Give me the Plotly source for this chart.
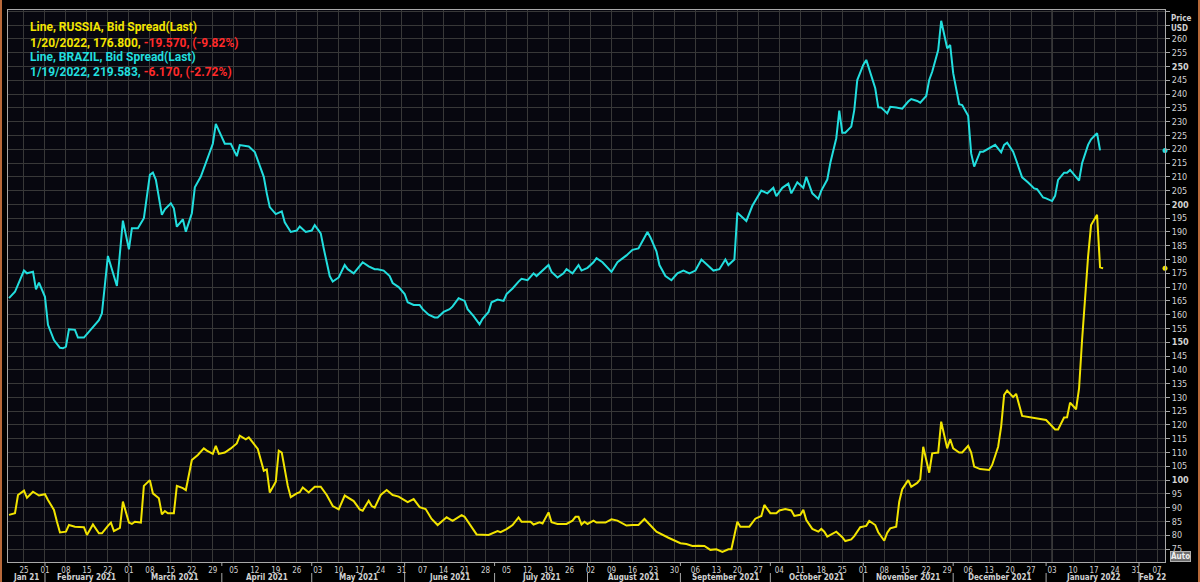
import plotly.graph_objects as go
import pandas as pd

# ---------------- data ----------------
russia_dates = [
    "2021-01-20","2021-01-22","2021-01-23","2021-01-25","2021-01-26","2021-01-28","2021-01-30",
    "2021-02-01","2021-02-02","2021-02-04","2021-02-05","2021-02-06","2021-02-08","2021-02-09",
    "2021-02-11","2021-02-14","2021-02-15","2021-02-16","2021-02-17","2021-02-19","2021-02-20",
    "2021-02-22","2021-02-23","2021-02-24","2021-02-26","2021-02-27","2021-03-01","2021-03-02",
    "2021-03-03","2021-03-05","2021-03-06","2021-03-08","2021-03-09","2021-03-11","2021-03-12",
    "2021-03-13","2021-03-14","2021-03-16","2021-03-17","2021-03-19","2021-03-20","2021-03-22",
    "2021-03-24","2021-03-26","2021-03-27","2021-03-29","2021-03-30","2021-03-31","2021-04-02",
    "2021-04-04","2021-04-06","2021-04-07","2021-04-09","2021-04-10","2021-04-11","2021-04-13",
    "2021-04-15","2021-04-16","2021-04-17","2021-04-19","2021-04-20","2021-04-21","2021-04-23",
    "2021-04-24","2021-04-26","2021-04-27","2021-04-28","2021-04-30","2021-05-02","2021-05-04",
    "2021-05-06","2021-05-08","2021-05-10","2021-05-12","2021-05-15","2021-05-17","2021-05-18",
    "2021-05-20","2021-05-21","2021-05-22","2021-05-24","2021-05-26","2021-05-28","2021-05-30",
    "2021-06-02","2021-06-04","2021-06-06","2021-06-08","2021-06-10","2021-06-12","2021-06-15",
    "2021-06-17","2021-06-20","2021-06-21","2021-06-25","2021-06-29","2021-07-02","2021-07-03",
    "2021-07-05","2021-07-07","2021-07-09","2021-07-10","2021-07-13","2021-07-14","2021-07-16",
    "2021-07-17","2021-07-19","2021-07-20","2021-07-22","2021-07-25","2021-07-27","2021-07-28",
    "2021-07-29","2021-07-30","2021-07-31","2021-08-01","2021-08-03","2021-08-04","2021-08-07",
    "2021-08-09","2021-08-11","2021-08-14","2021-08-16","2021-08-18","2021-08-20","2021-08-22",
    "2021-08-24","2021-08-28","2021-09-01","2021-09-03","2021-09-05","2021-09-07","2021-09-09",
    "2021-09-11","2021-09-13","2021-09-15","2021-09-17","2021-09-18","2021-09-20","2021-09-21",
    "2021-09-24","2021-09-26","2021-09-28","2021-09-29","2021-10-01","2021-10-03","2021-10-04",
    "2021-10-06","2021-10-08","2021-10-09","2021-10-11","2021-10-12","2021-10-13","2021-10-15",
    "2021-10-17","2021-10-18","2021-10-19","2021-10-20","2021-10-22","2021-10-23","2021-10-25",
    "2021-10-26","2021-10-28","2021-10-29","2021-10-31","2021-11-02","2021-11-03","2021-11-05",
    "2021-11-06","2021-11-08","2021-11-09","2021-11-10","2021-11-12","2021-11-13","2021-11-14",
    "2021-11-16","2021-11-17","2021-11-19","2021-11-20","2021-11-21","2021-11-23","2021-11-24",
    "2021-11-26","2021-11-27","2021-11-29","2021-11-30","2021-12-01","2021-12-03","2021-12-04",
    "2021-12-06","2021-12-07","2021-12-08","2021-12-10","2021-12-13","2021-12-14","2021-12-16",
    "2021-12-17","2021-12-18","2021-12-19","2021-12-21","2021-12-22","2021-12-24","2022-01-01",
    "2022-01-04","2022-01-05","2022-01-07","2022-01-08","2022-01-09","2022-01-11","2022-01-12",
    "2022-01-13","2022-01-14","2022-01-15","2022-01-16","2022-01-18","2022-01-19","2022-01-20",
]
russia_values = [
    87.4, 88.0, 94.6, 96.2, 93.6, 95.8, 94.4,
    94.9, 92.8, 89.2, 84.9, 81.0, 81.3, 83.7,
    83.1, 82.9, 80.1, 82.2, 83.9, 80.7, 80.7,
    83.4, 84.6, 81.5, 82.7, 92.2, 84.6, 84.1,
    84.9, 84.6, 97.9, 100.0, 95.2, 93.4, 87.6,
    88.8, 88.0, 88.0, 97.9, 97.1, 96.4, 107.3,
    109.1, 111.5, 110.7, 109.5, 112.4, 109.5, 110.0,
    111.5, 113.3, 116.1, 114.8, 115.5, 114.2, 111.3,
    103.4, 103.9, 95.5, 99.4, 110.7, 110.0, 97.9,
    93.8, 95.2, 95.6, 97.3, 95.5, 97.6, 97.6,
    94.6, 90.6, 89.4, 94.4, 92.4, 89.4, 88.9,
    92.5, 90.6, 90.0, 94.6, 96.4, 94.6, 94.0,
    92.0, 93.1, 90.2, 89.5, 85.9, 83.7, 86.5,
    85.2, 87.3, 86.7, 80.3, 80.1, 81.5, 81.1,
    82.2, 83.7, 86.5, 84.9, 84.9, 83.9, 84.7,
    84.3, 88.3, 84.7, 84.1, 84.1, 85.3, 86.7,
    86.7, 83.9, 84.9, 84.1, 85.3, 84.6, 84.6,
    85.8, 85.3, 83.5, 83.7, 83.7, 85.9, 83.7,
    81.3, 79.1, 77.1, 76.8, 76.1, 76.2, 76.1,
    74.7, 74.9, 74.0, 74.9, 74.9, 84.9, 83.1,
    83.1, 86.0, 87.0, 91.0, 88.0, 88.0, 89.0,
    89.5, 89.0, 87.0, 87.4, 89.2, 85.5, 82.3,
    81.3, 82.3, 81.3, 79.5, 80.9, 81.3, 79.3,
    77.9, 78.5, 79.7, 82.9, 83.4, 85.2, 83.7,
    81.1, 78.0, 80.9, 82.5, 83.1, 92.2, 96.7,
    100.0, 97.6, 99.0, 100.3, 112.1, 102.7, 109.7,
    110.0, 121.2, 111.5, 114.8, 111.5, 110.0, 110.0,
    112.4, 110.0, 104.9, 104.0, 103.7, 105.5, 112.1,
    119.4, 130.9, 132.5, 130.1, 131.3, 123.3, 121.8,
    118.4, 118.4, 122.7, 122.8, 128.1, 125.7, 133.3,
    150.8, 167.8, 181.0, 192.5, 196.2, 177.2, 176.8,
]

brazil_dates = [
    "2021-01-20","2021-01-22","2021-01-25","2021-01-26","2021-01-28","2021-01-29","2021-01-30",
    "2021-02-01","2021-02-02","2021-02-04","2021-02-06","2021-02-07","2021-02-08","2021-02-09",
    "2021-02-11","2021-02-12","2021-02-14","2021-02-16","2021-02-19","2021-02-20","2021-02-22",
    "2021-02-25","2021-02-27","2021-03-01","2021-03-02","2021-03-04","2021-03-06","2021-03-08",
    "2021-03-09","2021-03-10","2021-03-12","2021-03-13","2021-03-15","2021-03-16","2021-03-17",
    "2021-03-19","2021-03-20","2021-03-22","2021-03-23","2021-03-25","2021-03-26","2021-03-28",
    "2021-03-29","2021-03-30","2021-04-01","2021-04-02","2021-04-04","2021-04-06","2021-04-07",
    "2021-04-09","2021-04-10","2021-04-12","2021-04-13","2021-04-15","2021-04-16","2021-04-17",
    "2021-04-19","2021-04-21","2021-04-22","2021-04-24","2021-04-26","2021-04-27","2021-04-29",
    "2021-05-01","2021-05-02","2021-05-04","2021-05-05","2021-05-07","2021-05-08","2021-05-10",
    "2021-05-12","2021-05-13","2021-05-15","2021-05-17","2021-05-18","2021-05-20","2021-05-22",
    "2021-05-23","2021-05-25","2021-05-27","2021-05-28","2021-05-30","2021-06-01","2021-06-02",
    "2021-06-04","2021-06-06","2021-06-07","2021-06-09","2021-06-11","2021-06-12","2021-06-14",
    "2021-06-16","2021-06-17","2021-06-19","2021-06-21","2021-06-22","2021-06-24","2021-06-26",
    "2021-06-27","2021-06-29","2021-06-30","2021-07-02","2021-07-04","2021-07-05","2021-07-07",
    "2021-07-09","2021-07-10","2021-07-12","2021-07-14","2021-07-15","2021-07-17","2021-07-19",
    "2021-07-20","2021-07-22","2021-07-24","2021-07-25","2021-07-27","2021-07-29","2021-07-30",
    "2021-08-01","2021-08-03","2021-08-04","2021-08-06","2021-08-08","2021-08-09","2021-08-11",
    "2021-08-13","2021-08-14","2021-08-16","2021-08-18","2021-08-19","2021-08-21","2021-08-22",
    "2021-08-24","2021-08-25","2021-08-27","2021-08-29","2021-08-31","2021-09-02","2021-09-04",
    "2021-09-06","2021-09-08","2021-09-10","2021-09-12","2021-09-14","2021-09-16","2021-09-17",
    "2021-09-19","2021-09-20","2021-09-22","2021-09-23","2021-09-25",
    "2021-09-27","2021-09-28","2021-09-30","2021-10-02","2021-10-03","2021-10-05","2021-10-07",
    "2021-10-08","2021-10-10","2021-10-12","2021-10-13","2021-10-15","2021-10-17","2021-10-18",
    "2021-10-20","2021-10-21","2021-10-23","2021-10-24","2021-10-25","2021-10-26","2021-10-28",
    "2021-10-29","2021-10-30","2021-11-01","2021-11-02","2021-11-03","2021-11-05","2021-11-06",
    "2021-11-07","2021-11-09","2021-11-10","2021-11-12","2021-11-14","2021-11-16","2021-11-17",
    "2021-11-19","2021-11-20","2021-11-22","2021-11-23","2021-11-24","2021-11-26","2021-11-27",
    "2021-11-29","2021-11-30","2021-12-01","2021-12-03","2021-12-04","2021-12-06","2021-12-07",
    "2021-12-08","2021-12-10","2021-12-11","2021-12-13","2021-12-15","2021-12-17","2021-12-18",
    "2021-12-19","2021-12-21","2021-12-22","2021-12-24","2021-12-26","2021-12-28","2021-12-29",
    "2021-12-31","2022-01-01","2022-01-03","2022-01-04","2022-01-05","2022-01-07","2022-01-08",
    "2022-01-09","2022-01-11","2022-01-12","2022-01-13","2022-01-15","2022-01-16","2022-01-18",
    "2022-01-19",
]
brazil_values = [
    166.0, 168.3, 176.0, 175.0, 175.6, 169.2, 171.6,
    166.5, 156.3, 150.8, 148.0, 147.8, 148.4, 154.7,
    154.5, 151.7, 151.7, 154.2, 158.0, 160.5, 181.3,
    170.4, 194.1, 183.7, 191.3, 191.3, 195.0, 210.7,
    211.5, 208.9, 196.2, 198.2, 200.4, 198.6, 191.9,
    194.6, 190.1, 196.8, 206.2, 210.1, 213.0, 219.0,
    222.0, 229.2, 224.0, 222.0, 222.0, 217.5, 221.5,
    221.0, 221.0, 219.0, 216.0, 210.0, 204.0, 199.0,
    196.5, 197.5, 193.5, 190.0, 190.5, 192.0, 190.0,
    190.5, 192.5, 189.5, 184.0, 174.0, 172.0, 173.5,
    178.0, 176.5, 175.0, 177.5, 179.0, 177.5, 176.5,
    176.5, 176.0, 174.0, 171.5, 170.0, 167.5, 164.5,
    163.5, 163.5, 162.0, 160.0, 159.0, 159.0, 161.0,
    162.0, 163.0, 166.0, 165.0, 162.0, 159.5, 156.5,
    158.5, 161.0, 164.5, 165.5, 165.0, 167.5, 169.5,
    172.0, 173.0, 172.5, 175.0, 174.0, 176.0, 178.0,
    175.5, 173.5, 175.0, 176.5, 175.0, 178.0, 176.0,
    177.0, 179.0, 180.5, 179.0, 176.5, 175.5, 179.0,
    180.5, 181.5, 183.5, 184.0, 186.0, 190.0, 188.0,
    183.0, 178.0, 174.0, 172.5, 175.0, 176.0, 175.0,
    176.0, 180.0, 178.0, 176.0, 176.5, 180.0, 178.0,
    180.0, 197.0, 195.0, 194.0, 199.5,
    203.0, 205.0, 204.0, 206.0, 203.0, 206.0, 207.5,
    204.0, 208.0, 206.0, 210.0, 204.0, 202.0, 205.0,
    209.0, 215.0, 224.0, 234.0, 226.0, 226.0, 228.2,
    234.2, 245.1, 250.6, 252.4, 248.8, 242.1, 235.2,
    235.1, 233.0, 235.4, 235.1, 234.7, 237.3, 238.2,
    237.5, 236.9, 239.3, 245.1, 248.1, 256.0, 266.6,
    256.6, 257.8, 247.6, 236.3, 236.0, 232.1, 218.5,
    213.7, 219.1, 219.1, 220.3, 221.6, 218.9, 221.6,
    222.4, 219.1, 216.1, 209.8, 207.9, 205.8, 205.5,
    202.5, 202.2, 201.2, 203.1, 208.9, 211.5, 211.5,
    212.5, 209.7, 208.6, 214.9, 221.6, 223.6, 225.8,
    219.583,
]

russia_label = ["Line, RUSSIA, Bid Spread(Last)", "1/20/2022, 176.800, ", "-19.570, (-9.82%)"]
brazil_label = ["Line, BRAZIL, Bid Spread(Last)", "1/19/2022, 219.583, ", "-6.170, (-2.72%)"]

y_ticks = list(range(75, 261, 5))
x_range = ["2021-01-19 16:00", "2022-02-09 16:00"]
y_range = [70.3, 270.5]

# ---------------- styling ----------------
YELLOW = "#f2e400"
CYAN = "#22dede"
RED = "#ff2a2a"
GRID = "#383838"
AXIS = "#a8a8a8"
TXT = "#d2d2d2"
FONT = "Liberation Sans Narrow, Roboto, Arial, sans-serif"
SMALL = "DejaVu Sans Condensed, DejaVu Sans, sans-serif"

fig = go.Figure()
fig.add_trace(go.Scatter(x=brazil_dates, y=brazil_values, mode="lines",
                         line=dict(color=CYAN, width=2), hoverinfo="skip"))
fig.add_trace(go.Scatter(x=russia_dates, y=russia_values, mode="lines",
                         line=dict(color=YELLOW, width=2), hoverinfo="skip"))
# last-value markers on the axis
fig.add_trace(go.Scatter(x=[x_range[1]], y=[brazil_values[-1]], mode="markers",
                         marker=dict(color=CYAN, size=5), cliponaxis=False, hoverinfo="skip"))
fig.add_trace(go.Scatter(x=[x_range[1]], y=[russia_values[-1]], mode="markers",
                         marker=dict(color=YELLOW, size=5), cliponaxis=False, hoverinfo="skip"))

tickvals_y = [70] + y_ticks + [265, 270]
ticktext_y = [""] + [f"<b>{v}</b>" if v % 50 == 0 else str(v) for v in y_ticks] + ["", ""]

W, H = 1200, 582
ml, mr, mt, mb = 8, 35, 10, 20
pw, ph = W - ml - mr, H - mt - mb

def px_x(p):
    return (p - ml) / pw

def px_y(p):
    return 1 - (p - mt) / ph

fig.update_layout(
    width=W, height=H,
    margin=dict(l=ml, r=mr, t=mt, b=mb, pad=0),
    paper_bgcolor="#000000",
    plot_bgcolor="#07070f",
    showlegend=False,
    font=dict(family=FONT, color=TXT),
    xaxis=dict(
        type="date", range=x_range,
        tick0="2021-01-25", dtick=7 * 86400000, tickformat="%d",
        showgrid=True, gridcolor=GRID, gridwidth=1,
        showline=True, linecolor=AXIS, linewidth=1, mirror=True,
        ticks="", ticklen=0,
        tickfont=dict(size=8, color=TXT, family=SMALL),
        zeroline=False, fixedrange=True,
    ),
    yaxis=dict(
        side="right", range=y_range,
        tickmode="array", tickvals=tickvals_y, ticktext=ticktext_y,
        showgrid=True, gridcolor=GRID, gridwidth=1,
        showline=True, linecolor=AXIS, linewidth=1, mirror=True,
        ticks="outside", ticklen=4, tickcolor=AXIS,
        tickfont=dict(size=9, color=TXT, family=SMALL),
        zeroline=False, fixedrange=True,
    ),
)

annotations = []
lines = [
    (27, f"<b>{russia_label[0]}</b>", YELLOW),
    (43, f"<b>{russia_label[1]}<span style='color:{RED}'>{russia_label[2]}</span></b>", YELLOW),
    (57, f"<b>{brazil_label[0]}</b>", CYAN),
    (72, f"<b>{brazil_label[1]}<span style='color:{RED}'>{brazil_label[2]}</span></b>", CYAN),
]
for ypix, text, col in lines:
    annotations.append(dict(xref="paper", yref="paper", x=px_x(28), y=px_y(ypix),
                            xanchor="left", yanchor="middle", text=text, showarrow=False,
                            font=dict(family=FONT, size=12, color=col)))

# Price USD
annotations.append(dict(xref="paper", yref="paper", x=px_x(1169), y=px_y(12),
                        xanchor="left", yanchor="top", text="<b>Price<br>USD</b>", showarrow=False,
                        align="left", font=dict(family=SMALL, size=8, color=TXT)))
# Auto box
annotations.append(dict(xref="paper", yref="paper", x=px_x(1170), y=px_y(556),
                        xanchor="left", yanchor="middle", text="<b>Auto</b>", showarrow=False,
                        bgcolor="#6e6e6e", bordercolor="#b0b0b0", borderwidth=1, borderpad=0,
                        font=dict(family=SMALL, size=8, color="#f0f0f0")))

# month labels row
x0 = pd.Timestamp(x_range[0]); x1 = pd.Timestamp(x_range[1])
months = pd.date_range("2021-01-01", "2022-02-01", freq="MS")
shapes = []
for m in months:
    start = max(m, x0)
    end = min(m + pd.offsets.MonthBegin(1), x1)
    mid = start + (end - start) / 2
    partial = (m < x0) or (m + pd.offsets.MonthBegin(1) > x1)
    label = m.strftime("%b %y") if partial else m.strftime("%B %Y")
    annotations.append(dict(xref="x", yref="paper", x=mid, y=px_y(577.5), xanchor="center",
                            yanchor="middle", text=f"<b>{label}</b>", showarrow=False,
                            font=dict(family=SMALL, size=8, color=TXT)))
    if m > x0:
        shapes.append(dict(type="line", xref="x", yref="paper", x0=m, x1=m,
                           y0=px_y(573), y1=px_y(582), line=dict(color=AXIS, width=1)))
        shapes.append(dict(type="line", xref="x", yref="paper", x0=m, x1=m,
                           y0=px_y(563), y1=px_y(566), line=dict(color=AXIS, width=1)))

# slightly brighter year boundary grid line
shapes.append(dict(type="line", xref="x", yref="paper", x0="2022-01-03", x1="2022-01-03",
                   y0=0, y1=1, line=dict(color="#444444", width=1.5), layer="below"))
# orange window edges
for xp in (px_x(1), px_x(1199)):
    shapes.append(dict(type="line", xref="paper", yref="paper", x0=xp, x1=xp,
                       y0=px_y(582), y1=px_y(0), line=dict(color="#b8693a", width=2)))

fig.update_layout(annotations=annotations, shapes=shapes)
fig.write_html("out.html", config={"displayModeBar": False})
